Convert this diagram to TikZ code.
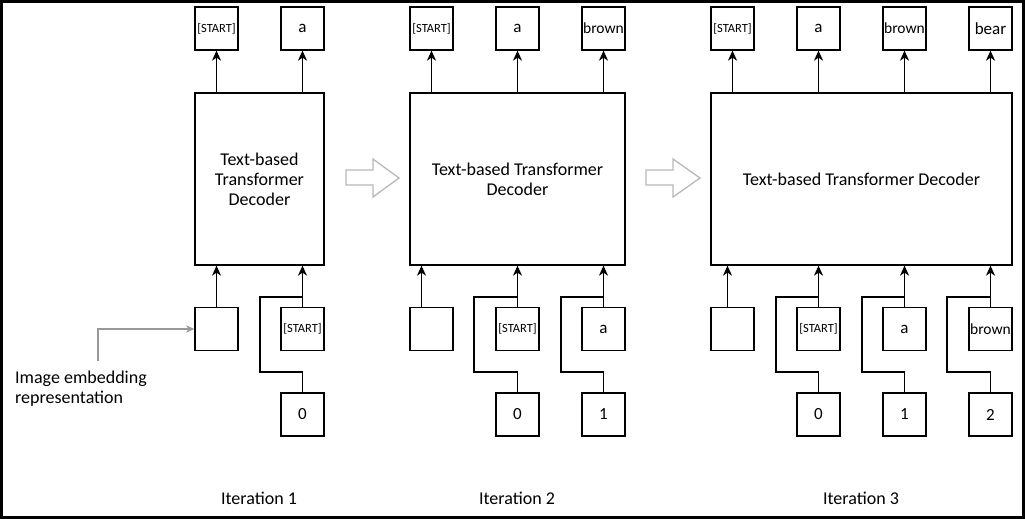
\documentclass[tikz,border=0pt]{standalone}
\usepackage{fontspec}
\setmainfont{Carlito}
\usetikzlibrary{arrows.meta,calc}
\begin{document}
\begin{tikzpicture}[x=1pt,y=-1pt,
  sq/.style={draw, line width=1.3pt, minimum width=43pt, minimum height=43pt, inner sep=0pt},
  dec/.style={draw, line width=1.3pt, inner sep=0pt, align=center, minimum height=172pt, font=\fontsize{18}{20}\selectfont},
  arr/.style={line width=1.3pt, -{Stealth[length=10pt,width=9pt,inset=3pt]}},
  wire/.style={line width=1.3pt},
  hollow/.style={draw=black!28, line width=1.3pt, fill=white, line join=miter},
  grayarr/.style={draw=black!40, line width=1.2pt, -{Stealth[length=8pt,width=7pt,inset=2pt]}},
  fstart/.style={font=\fontsize{12.5}{12.5}\selectfont},
  fword/.style={font=\fontsize{17}{17}\selectfont},
  fbrown/.style={font=\fontsize{15.5}{15.5}\selectfont},
  lbl/.style={font=\fontsize{18}{20}\selectfont, inner sep=0pt}
]
\useasboundingbox (0,0) rectangle (1025,519);
\draw[line width=3pt] (1.5,1.5) rectangle (1023.5,517.5);

% ---------- Iteration 1 ----------
\node[dec, minimum width=129pt] (d1) at (259.5,179) {Text-based\\Transformer\\Decoder};
\node[sq, fstart] (t1s) at (216.5,28.5) {[START]};
\node[sq, fword] (t1a) at (302.5,28.5) {a};
\node[sq] (e1) at (216.5,329) {};
\node[sq, fstart] (s1) at (302.5,329) {[START]};
\node[sq, fword] (z1) at (302.5,414.5) {0};
\draw[arr] (t1s.south |- d1.north) -- (t1s.south);
\draw[arr] (t1a.south |- d1.north) -- (t1a.south);
\draw[arr] (e1.north) -- (e1.north |- d1.south);
\draw[arr] (s1.north) -- (s1.north |- d1.south);
\coordinate (w1a) at (260,372);
\coordinate (w1b) at (260,297);
\draw[wire] (z1.north) |- (w1a) -- (w1b) -- (w1b -| s1.north);
\coordinate (g0) at (98,361);
\draw[grayarr] (g0) |- (e1.west);
\node[lbl, anchor=north west, align=left] (lbl) at (15,371) {Image embedding\\representation};
\node[lbl] (it1) at (259,498) {Iteration 1};

% hollow arrow 1
\draw[hollow] (346,170) -- (373,170) -- (373,159) -- (399,178) -- (373,197) -- (373,185) -- (346,185) -- cycle;

% ---------- Iteration 2 ----------
\node[dec, minimum width=215pt] (d2) at (517.5,179) {Text-based Transformer\\Decoder};
\node[sq, fstart] (t2s) at (431.5,28.5) {[START]};
\node[sq, fword] (t2a) at (517.5,28.5) {a};
\node[sq, fbrown] (t2b) at (603.5,28.5) {brown};
\node[sq] (e2) at (431.5,329) {};
\node[sq, fstart] (s2) at (517.5,329) {[START]};
\node[sq, fword] (a2) at (603.5,329) {a};
\node[sq, fword] (z2) at (517.5,414.5) {0};
\node[sq, fword] (o2) at (603.5,414.5) {1};
\draw[arr] (t2s.south |- d2.north) -- (t2s.south);
\draw[arr] (t2a.south |- d2.north) -- (t2a.south);
\draw[arr] (t2b.south |- d2.north) -- (t2b.south);
\draw[arr] ([xshift=-10pt]e2.north) -- ([xshift=-10pt]e2.north |- d2.south);
\draw[arr] (s2.north) -- (s2.north |- d2.south);
\draw[arr] (a2.north) -- (a2.north |- d2.south);
\coordinate (w2a) at (474,372);
\coordinate (w2b) at (474,297);
\draw[wire] (z2.north) |- (w2a) -- (w2b) -- (w2b -| s2.north);
\coordinate (w2c) at (561,372);
\coordinate (w2d) at (561,297);
\draw[wire] (o2.north) |- (w2c) -- (w2d) -- (w2d -| a2.north);
\node[lbl] (it2) at (517,498) {Iteration 2};

% hollow arrow 2
\draw[hollow] (646,170) -- (673,170) -- (673,159) -- (700,178) -- (673,197) -- (673,185) -- (646,185) -- cycle;

% ---------- Iteration 3 ----------
\node[dec, minimum width=301pt] (d3) at (861.5,179) {Text-based Transformer Decoder};
\node[sq, fstart] (t3s) at (732.5,28.5) {[START]};
\node[sq, fword] (t3a) at (818.5,28.5) {a};
\node[sq, fbrown] (t3b) at (904.5,28.5) {brown};
\node[sq, fword] (t3c) at (990.5,28.5) {bear};
\node[sq] (e3) at (732.5,329) {};
\node[sq, fstart] (s3) at (818.5,329) {[START]};
\node[sq, fword] (a3) at (904.5,329) {a};
\node[sq, fbrown] (b3) at (990.5,329) {brown};
\node[sq, fword] (z3) at (818.5,414.5) {0};
\node[sq, fword] (o3) at (904.5,414.5) {1};
\node[sq, fword] (w3) at (990.5,414.5) {2};
\draw[arr] (t3s.south |- d3.north) -- (t3s.south);
\draw[arr] (t3a.south |- d3.north) -- (t3a.south);
\draw[arr] (t3b.south |- d3.north) -- (t3b.south);
\draw[arr] (t3c.south |- d3.north) -- (t3c.south);
\draw[arr] ([xshift=-5pt]e3.north) -- ([xshift=-5pt]e3.north |- d3.south);
\draw[arr] (s3.north) -- (s3.north |- d3.south);
\draw[arr] (a3.north) -- (a3.north |- d3.south);
\draw[arr] (b3.north) -- (b3.north |- d3.south);
\coordinate (w3a) at (776,372);
\coordinate (w3b) at (776,297);
\draw[wire] (z3.north) |- (w3a) -- (w3b) -- (w3b -| s3.north);
\coordinate (w3c) at (862,372);
\coordinate (w3d) at (862,297);
\draw[wire] (o3.north) |- (w3c) -- (w3d) -- (w3d -| a3.north);
\coordinate (w3e) at (947,372);
\coordinate (w3f) at (947,297);
\draw[wire] (w3.north) |- (w3e) -- (w3f) -- (w3f -| b3.north);
\node[lbl] (it3) at (861,498) {Iteration 3};
\end{tikzpicture}
\end{document}
